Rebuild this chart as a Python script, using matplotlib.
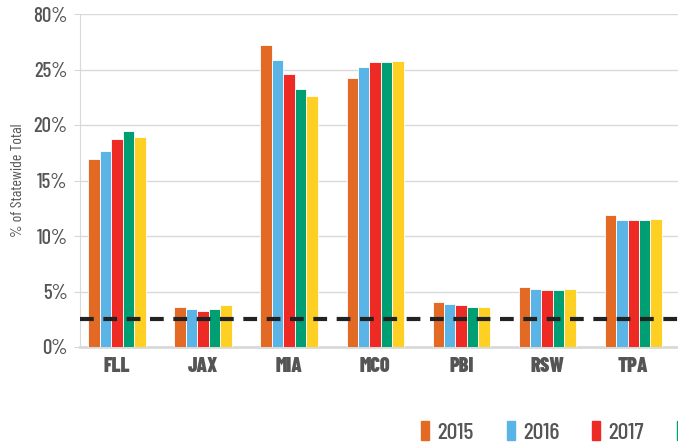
import matplotlib
matplotlib.use("Agg")
import matplotlib.pyplot as plt
import numpy as np
from matplotlib.patches import Patch

airports = ["FLL", "JAX", "MIA", "MCO", "PBI", "RSW", "TPA"]
years = ["2015", "2016", "2017", "2018", "2019"]

share_2015 = [16.9, 3.6, 27.2, 24.2, 4.05, 5.4, 11.85]
share_2016 = [17.7, 3.4, 25.9, 25.2, 3.85, 5.25, 11.4]
share_2017 = [18.75, 3.25, 24.6, 25.65, 3.75, 5.1, 11.4]
share_2018 = [19.5, 3.4, 23.2, 25.65, 3.6, 5.1, 11.4]
share_2019 = [18.9, 3.75, 22.6, 25.8, 3.6, 5.25, 11.55]

statewide_avg = 2.55

y_ticks = [0, 5, 10, 15, 20, 25, 30]
y_tick_labels = ["0%", "5%", "10%", "15%", "20%", "25%", "80%"]

colors = ["#E36A25", "#5AB4E5", "#EE2A24", "#009E73", "#FDD023"]
series = [share_2015, share_2016, share_2017, share_2018, share_2019]

FONT = ["Barlow Condensed", "DejaVu Sans"]
GRAY = "#555555"

fig = plt.figure(figsize=(6.78, 4.45), dpi=100)
ax = fig.add_axes([80 / 678, 98 / 445, 598 / 678, 333 / 445])

x = np.arange(len(airports))
width = 0.133
for i, (vals, c) in enumerate(zip(series, colors)):
    ax.bar(x + (i - 2) * width, vals, width, color=c, edgecolor="white",
           linewidth=0.6, zorder=3)

ax.axhline(statewide_avg, color="#222222", lw=3, ls=(0, (3.3, 2.3)), zorder=4)

ax.set_xlim(-0.43, 6.52)
ax.set_ylim(0, 30)
ax.set_yticks(y_ticks)
ax.set_yticklabels(y_tick_labels, family=FONT, fontsize=15, fontweight="medium", color=GRAY)
ax.set_xticks(x)
ax.set_xticklabels(airports, family=FONT, fontsize=14.5, fontweight="black", color=GRAY)
ax.tick_params(axis="y", length=4, color="#d9d9d9", pad=5)
ax.tick_params(axis="x", length=0, pad=7)
ax.grid(axis="y", color="#d9d9d9", lw=1, zorder=0)
for s in ["top", "right"]:
    ax.spines[s].set_visible(False)
ax.spines["left"].set_color("#d9d9d9")
ax.spines["bottom"].set_color("#d9d9d9")
ax.spines["bottom"].set_linewidth(2)
ax.set_ylabel("% of Statewide Total", family=FONT, fontsize=11.5, color=GRAY, labelpad=6)

handles = [Patch(color=c, label=y) for c, y in zip(colors, years)]
fig.legend(handles=handles, loc="center left", bbox_to_anchor=(400 / 678, 13 / 445),
           ncol=5, frameon=False, handlelength=0.34, handleheight=0.85,
           handletextpad=0.34, columnspacing=1.4,
           prop={"family": FONT, "size": 17, "weight": "medium"}, labelcolor=GRAY)

fig.savefig("out.png", dpi=100)
